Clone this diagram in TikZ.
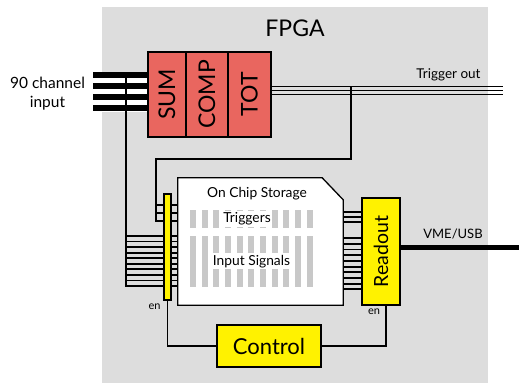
\documentclass[tikz,border=0pt]{standalone}
\usepackage{fontspec}
\setmainfont{Lato}
\usepackage{graphicx}
\definecolor{fpgagray}{RGB}{221,221,221}
\definecolor{bargray}{RGB}{200,200,200}
\definecolor{blockred}{RGB}{233,102,95}
\pgfdeclarelayer{bg}
\pgfdeclarelayer{wires}
\pgfsetlayers{bg,wires,main}
\newcommand{\fs}[1]{\fontsize{#1}{#1}\selectfont}
\begin{document}
\begin{tikzpicture}[x=1pt,y=-1pt,
  wire/.style={line width=1.7pt},
  box/.style={draw, line width=1.3pt, inner sep=0pt, anchor=center},
  redbox/.style={box, fill=blockred, font=\fs{23}},
  ybox/.style={box, fill=yellow},
  lbl/.style={inner sep=0pt}]
\useasboundingbox (0,0) rectangle (519,383);
\begin{pgfonlayer}{bg}
\fill[fpgagray] (102,7) rectangle (488,383);
\end{pgfonlayer}
\node[lbl, font=\fs{23}, anchor=base] (fpga) at (295,36) {FPGA};
% processing blocks
\node[redbox, minimum width=38pt, minimum height=85pt] (sum) at (167,94.5) {\rotatebox{90}{SUM}};
\node[redbox, minimum width=42pt, minimum height=85pt] (comp) at (207,94.5) {\rotatebox{90}{COMP}};
\node[redbox, minimum width=43pt, minimum height=85pt] (tot) at (249.5,94.5) {\rotatebox{90}{TOT}};
% storage
\node[inner sep=0pt, minimum width=165pt, minimum height=127pt] (store) at (260.5,241.5) {};
\draw[line width=1.3pt, fill=white] (store.south west) -- (store.north west) -- ([xshift=-21pt]store.north east) -- ([yshift=-22pt]store.north east) -- (store.south east) -- cycle;
\foreach \i in {0,...,10} {
  \fill[bargray] ({190+\i*11.65},210) rectangle ++(6,18);
  \fill[bargray] ({190+\i*11.65},236) rectangle ++(6,51);
}
\node[lbl, font=\fs{13.8}, anchor=base] (stlbl) at (257,197) {On Chip Storage};
\node[fill=white, inner sep=1.5pt, font=\fs{13.8}, anchor=base] (trg) at (247,222.5) {Triggers};
\node[fill=white, inner sep=1.5pt, font=\fs{13.8}, anchor=base] (ins) at (251.5,265) {Input Signals};
% enable bar, readout, control
\node[ybox, minimum width=7pt, minimum height=106pt] (lbar) at (167.5,247) {};
\node[ybox, minimum width=38pt, minimum height=107pt, font=\fs{19.5}] (readout) at (381,251.5) {\rotatebox{90}{Readout}};
\node[ybox, minimum width=104pt, minimum height=42pt, font=\fs{22}] (control) at (269,346) {Control};
\node[lbl, font=\fs{11}] (enl) at (154.5,307) {en};
\node[lbl, font=\fs{11}] (enr) at (374,311.5) {en};
% outside labels
\node[align=center, font=\fontsize{15.5}{19}\selectfont, inner sep=0pt] (inp) at (47.5,94) {90 channel\\input};
\node[lbl, font=\fs{13.5}, anchor=base] (tout) at (448.5,78) {Trigger out};
\node[lbl, font=\fs{13}, anchor=base] (vme) at (453,238) {VME/USB};
\coordinate (inL) at (93,0);
\coordinate (toutR) at (503,0);
\coordinate (vmeR) at (519,0);
\begin{pgfonlayer}{wires}
% input bus
\fill[white] (inL |- 0,71.5) rectangle (sum.west |- 0,111.5);
\foreach \y in {75,86,97,108} \draw[line width=5.5pt] (inL |- 0,\y) -- (sum.west |- 0,\y);
\draw[wire] (126,75) -- (126,286) -- (store.west |- 0,286);
\foreach \k in {0,...,8} {
  \pgfmathsetmacro\yy{236+\k*5.55}
  \draw[wire] (126,\yy) -- (store.west |- 0,\yy);
}
% trigger out
\foreach \y in {86.5,90.5,94.5} \draw[line width=1.6pt] (tot.east |- 0,\y) -- (toutR |- 0,\y);
% trigger feedback into storage
\draw[wire] (351,86.5) |- (156,159) |- (store.west |- 0,221);
\draw[wire] (156,205) -- (store.west |- 0,205);
\draw[wire] (156,213) -- (store.west |- 0,213);
% storage to readout
\foreach \y in {212,217,222} \draw[wire] (store.east |- 0,\y) -- (readout.west |- 0,\y);
\foreach \k in {0,...,9} {
  \pgfmathsetmacro\yy{238.3+\k*5.67}
  \draw[wire] (store.east |- 0,\yy) -- (readout.west |- 0,\yy);
}
% control
\draw[wire] (lbar.south) |- (control.west);
\draw[wire] ([xshift=5pt]readout.south) |- (control.east);
% VME/USB
\draw[line width=5pt] (readout.east |- 0,247) -- (vmeR |- 0,247);
\end{pgfonlayer}
\end{tikzpicture}
\end{document}
